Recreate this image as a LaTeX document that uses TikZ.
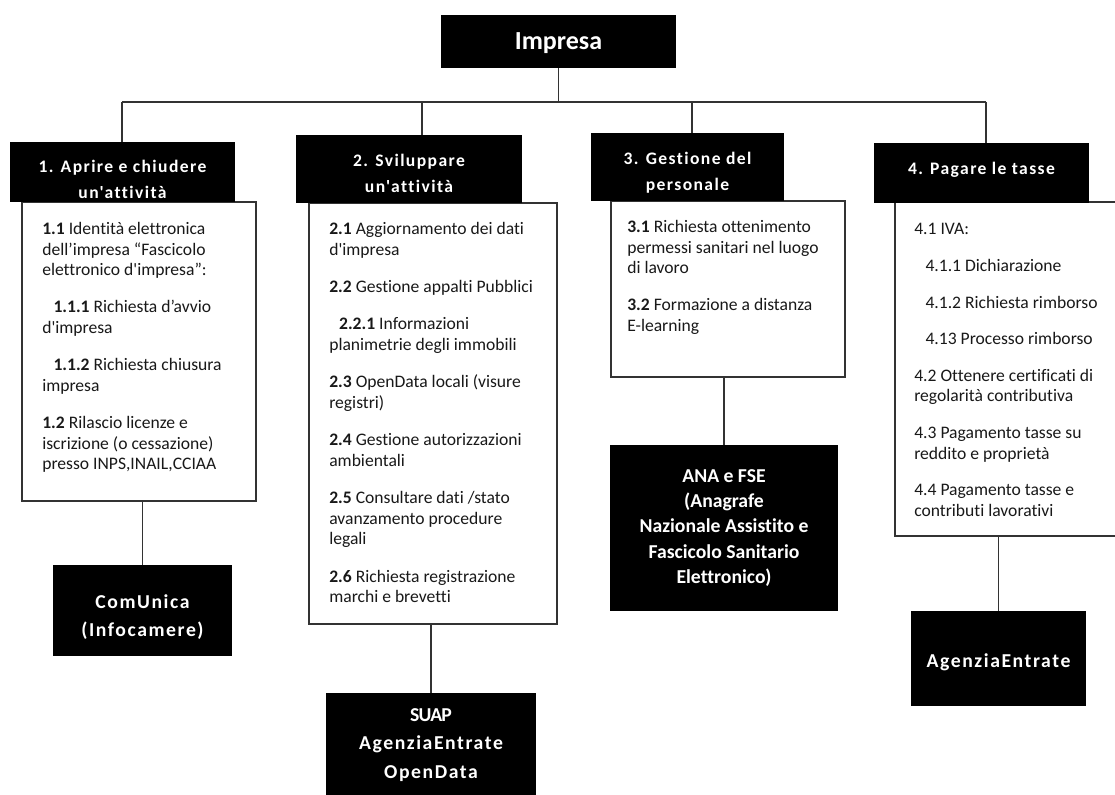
\documentclass[tikz,border=0pt]{standalone}
\usepackage{fontspec}
\setmainfont{Carlito}[Ligatures=NoCommon]
\newfontfamily\bodyfont[Ligatures=NoCommon]{Carlito}
\newfontfamily\spaced[LetterSpace=8,Ligatures=NoCommon]{Carlito}
\newfontfamily\tight[LetterSpace=-4,Ligatures=NoCommon]{Carlito}
\newlength{\pxu}
\setlength{\pxu}{0.025cm}
\tikzset{
  panel/.style={fill=black, inner sep=0pt},
  head/.style={text=white, inner sep=0pt, align=center,
    font=\spaced\bfseries\fontsize{12.5}{18.5}\selectfont},
  source/.style={text=white, inner sep=0pt, align=center,
    font=\bfseries\fontsize{14}{20}\selectfont},
  card/.style={draw=black!80, line width=1.1pt, fill=white, inner sep=0pt},
  items/.style={inner sep=0pt, align=left, anchor=north west, text=black!90,
    font=\bodyfont\fontsize{12.5}{14.6}\selectfont},
  link/.style={draw=black!80, line width=1.1pt}
}

\begin{document}
\begin{tikzpicture}[x=\pxu, y=-\pxu]
\useasboundingbox (0,0) rectangle (1115,794);

\node[panel, minimum width=235*\pxu, minimum height=53*\pxu] (impresa) at (558.5,41.5) {};
\node[source, font=\bfseries\fontsize{18.5}{22}\selectfont] (impresat) at ([yshift=-2*\pxu]impresa) {Impresa};

\coordinate (d1) at (122,102);
\coordinate (d2) at (422,102);
\coordinate (d3) at (692,102);
\coordinate (d4) at (986,102);

\node[card, minimum width=234*\pxu, minimum height=299*\pxu] (c1) at (139,351.5) {};
\node[card, minimum width=248*\pxu, minimum height=421*\pxu] (c2) at (433,413.5) {};
\node[card, minimum width=234*\pxu, minimum height=176*\pxu] (c3) at (728,289) {};
\node[card, minimum width=223*\pxu, minimum height=334*\pxu] (c4) at (1006.5,369) {};

\node[panel, minimum width=225*\pxu, minimum height=60*\pxu] (h1) at (122.5,172) {};
\node[panel, minimum width=226*\pxu, minimum height=68*\pxu] (h2) at (409,169) {};
\node[panel, minimum width=193*\pxu, minimum height=68*\pxu] (h3) at (687.5,167) {};
\node[panel, minimum width=215*\pxu, minimum height=60*\pxu] (h4) at (981.5,173) {};
\node[head] (h1t) at ([yshift=-7*\pxu]h1) {1. Aprire e chiudere\\un'attività};
\node[head] (h2t) at ([yshift=-4*\pxu]h2) {2. Sviluppare\\un'attività};
\node[head] (h3t) at ([yshift=-6*\pxu]h3) {3. Gestione del\\personale};
\node[head] (h4t) at ([yshift=3*\pxu]h4) {4. Pagare le tasse};

\node[items] (l1) at (42,222) {\textbf{1.1} Identità elettronica\\
dell’impresa “Fascicolo\\
elettronico d'impresa”:\\[12pt]
\hspace*{8pt}\textbf{1.1.1} Richiesta d’avvio\\
d'impresa\\[12pt]
\hspace*{8pt}\textbf{1.1.2} Richiesta chiusura\\
impresa\\[12pt]
\textbf{1.2} Rilascio licenze e\\
iscrizione (o cessazione)\\
presso INPS,INAIL,CCIAA};

\node[items] (l2) at (329,222) {\textbf{2.1} Aggiornamento dei dati\\
d'impresa\\[12pt]
\textbf{2.2} Gestione appalti Pubblici\\[12pt]
\hspace*{7pt}\textbf{2.2.1} Informazioni\\
planimetrie degli immobili\\[12pt]
\textbf{2.3} OpenData locali (visure\\
registri)\\[12pt]
\textbf{2.4} Gestione autorizzazioni\\
ambientali\\[12pt]
\textbf{2.5} Consultare dati /stato\\
avanzamento procedure\\
legali\\[12pt]
\textbf{2.6} Richiesta registrazione\\
marchi e brevetti};

\node[items] (l3) at (627,220) {\textbf{3.1} Richiesta ottenimento\\
permessi sanitari nel luogo\\
di lavoro\\[12pt]
\textbf{3.2} Formazione a distanza\\
E-learning};

\node[items] (l4) at (914,223) {4.1 IVA:\\[11.5pt]
\hspace*{8pt}4.1.1 Dichiarazione\\[11.5pt]
\hspace*{8pt}4.1.2 Richiesta rimborso\\[11.5pt]
\hspace*{8pt}4.13 Processo rimborso\\[11.5pt]
4.2 Ottenere certificati di\\
regolarità contributiva\\[11.5pt]
4.3 Pagamento tasse su\\
reddito e proprietà\\[11.5pt]
4.4 Pagamento tasse e\\
contributi lavorativi};

\node[panel, minimum width=179*\pxu, minimum height=91*\pxu] (b1) at (142.5,610.5) {};
\node[panel, minimum width=210*\pxu, minimum height=104*\pxu] (b2) at (431,745) {};
\node[panel, minimum width=228*\pxu, minimum height=166*\pxu] (b3) at (724,528) {};
\node[panel, minimum width=175*\pxu, minimum height=95*\pxu] (b4) at (998.5,658.5) {};
\node[source, font=\spaced\bfseries\fontsize{14}{20}\selectfont] (b1t) at ([yshift=-7*\pxu]b1) {ComUnica\\(Infocamere)};
\node[source] (b2t) at (b2) {{\tight SUAP}\\{\spaced AgenziaEntrate}\\{\spaced OpenData}};
\node[source, font=\bfseries\fontsize{14}{17.8}\selectfont] (b3t) at (b3) {ANA e FSE\\(Anagrafe\\Nazionale Assistito e\\Fascicolo Sanitario\\Elettronico)};
\node[source, font=\spaced\bfseries\fontsize{14}{20}\selectfont] (b4t) at ([yshift=-4*\pxu]b4) {AgenziaEntrate};

\draw[link] (impresa) -- (impresa |- d1);
\draw[link] (d1) -- (d4);
\draw[link] (d1) -- (d1 |- h1.north);
\draw[link] (d2) -- (d2 |- h2.north);
\draw[link] (d3) -- (d3 |- h3.north);
\draw[link] (d4) -- (d4 |- h4.north);
\draw[link] (c1.south -| b1) -- (b1);
\draw[link] (c2.south -| b2) -- (b2);
\draw[link] (c3.south -| b3) -- (b3);
\draw[link] (c4.south -| b4) -- (b4);
\end{tikzpicture}
\end{document}
